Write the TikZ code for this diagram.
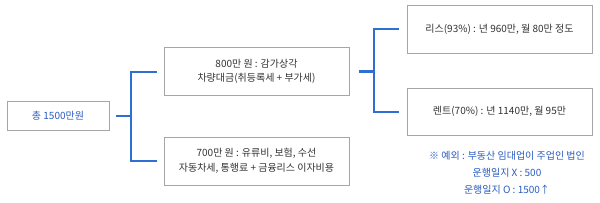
\documentclass[tikz,border=0pt]{standalone}
\usepackage{fontspec}
\setmainfont{Noto Sans CJK KR}
\definecolor{lineblue}{HTML}{2F6ED2}
\definecolor{textblue}{HTML}{2A5CC0}
\definecolor{boxgray}{HTML}{A6A6A6}
\definecolor{txt}{HTML}{333333}
\begin{document}
\begin{tikzpicture}[x=1pt,y=-1pt,
  box/.style={draw=boxgray,line width=1pt,fill=white,align=center,inner sep=0pt,
    font=\fontsize{10}{14.5}\selectfont,text=txt},
  conn/.style={draw=lineblue,line width=2pt},
  stub/.style={draw=lineblue,line width=2.6pt}]
\useasboundingbox (0,0) rectangle (600,202);
\node[box,minimum width=102pt,minimum height=29pt,text=textblue] (b1) at (58,116) {총 1500만원};
\node[box,minimum width=185pt,minimum height=48pt] (b2) at (256.5,71.5) {800만 원 : 감가상각\\차량대금(취등록세 + 부가세)};
\node[box,minimum width=185pt,minimum height=48pt] (b3) at (256.5,161) {700만 원 : 유류비, 보험, 수선\\자동차세, 통행료 + 금융리스 이자비용};
\node[box,minimum width=185pt,minimum height=48pt] (b4) at (499.5,29) {리스(93\%) : 년 960만, 월 80만 정도};
\node[box,minimum width=185pt,minimum height=47pt] (b5) at (499.5,111.5) {렌트(70\%) : 년 1140만, 월 95만};
\node[align=center,text=textblue,font=\fontsize{10}{17}\selectfont] (note) at (507,173) {※ 예외 : 부동산 임대업이 주업인 법인\\운행일지 X : 500\\운행일지 O : 1500↑};
\coordinate (j1) at (130.5,116);
\coordinate (j2) at (374,71.5);
\draw[stub] ([xshift=6pt]b1.east) -- (j1);
\draw[conn] ([xshift=-7pt]b2.west) -| (j1) |- ([xshift=-7pt]b3.west);
\draw[stub] ([xshift=9pt]b2.east) -- (j2);
\draw[conn] ([xshift=-8pt]b4.west) -| (j2) |- ([xshift=-8pt]b5.west);
\end{tikzpicture}
\end{document}
